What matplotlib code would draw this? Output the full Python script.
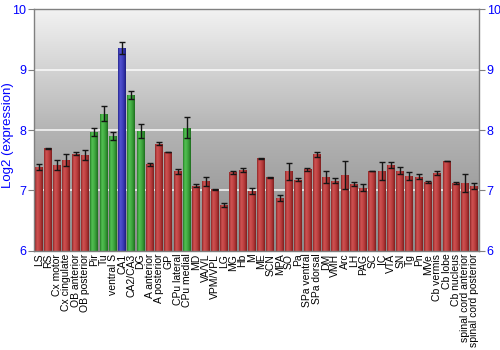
import numpy as np
import matplotlib
matplotlib.use("Agg")
import matplotlib.pyplot as plt
from matplotlib.colors import LinearSegmentedColormap

labels = ["LS", "RS", "Cx motor", "Cx cingulate", "OB anterior", "OB posterior",
          "Pir", "Tu", "ventral S", "CA1", "CA2/CA3", "DG", "A anterior",
          "A posterior", "GP", "CPu lateral", "CPu medial", "MD", "VA/VL",
          "VPM/VPL", "LG", "MG", "Hb", "M", "ME", "SCN", "MPA", "SO", "Pa",
          "SPa ventral", "SPa dorsal", "DM", "VMH", "Arc", "LH", "PAG", "SC",
          "IC", "VTA", "SN", "Tg", "Pn", "MVe", "Cb vermis", "Cb lobe",
          "Cb nucleus", "spinal cord anterior", "spinal cord posterior"]
values = [7.39, 7.70, 7.42, 7.51, 7.61, 7.585, 7.96, 8.27, 7.90, 9.35, 8.575,
          7.98, 7.43, 7.77, 7.635, 7.315, 8.04, 7.08, 7.15, 7.02, 6.76, 7.30,
          7.34, 6.99, 7.53, 7.215, 6.88, 7.315, 7.18, 7.35, 7.60, 7.225, 7.16,
          7.25, 7.11, 7.045, 7.325, 7.32, 7.425, 7.325, 7.24, 7.23, 7.145,
          7.29, 7.49, 7.125, 7.125, 7.08]
errors = [0.045, 0.01, 0.08, 0.10, 0.02, 0.08, 0.066, 0.12, 0.065, 0.10, 0.067,
          0.12, 0.03, 0.025, 0.005, 0.04, 0.17, 0.03, 0.08, 0.005, 0.03, 0.02,
          0.03, 0.05, 0.005, 0.005, 0.05, 0.14, 0.03, 0.02, 0.04, 0.10, 0.04,
          0.23, 0.03, 0.06, 0.005, 0.15, 0.05, 0.06, 0.06, 0.04, 0.02, 0.03,
          0.005, 0.01, 0.15, 0.05]
groups = ["r"] * 6 + ["g", "g", "g", "b", "g", "g"] + ["r"] * 4 + ["g"] + ["r"] * 31

yticks = [6, 7, 8, 9, 10]

cmaps = {
    "r": LinearSegmentedColormap.from_list("r", ["#8e2626", "#cf5252", "#c44646", "#ac3434", "#7c1e1e"]),
    "g": LinearSegmentedColormap.from_list("g", ["#267e26", "#52c052", "#46b046", "#349634", "#1e6c1e"]),
    "b": LinearSegmentedColormap.from_list("b", ["#26268e", "#5252d0", "#4646c4", "#3434ac", "#1e1e7c"]),
}

plt.rcParams["font.family"] = ["Liberation Sans", "DejaVu Sans"]
fig = plt.figure(figsize=(5, 3.5), dpi=100)
ax = fig.add_axes([0.068, 0.283, 0.89, 0.691])

ymin, ymax = 6, 10
n = len(labels)
x = np.arange(n)

# background gradient
bg = LinearSegmentedColormap.from_list("bg", ["#8a8a8a", "#b4b4b4", "#f2f2f2"])
grad = np.linspace(0, 1, 256).reshape(-1, 1)
ax.imshow(grad, extent=[-0.5, n - 0.5, ymin, ymax], origin="lower",
          cmap=bg, aspect="auto", zorder=0)

for yv in [7, 8, 9]:
    ax.axhline(yv, color="white", lw=1.2, alpha=0.85, zorder=1)

bars = ax.bar(x, np.array(values) - ymin, bottom=ymin, width=0.86,
              color="none", edgecolor="none", zorder=2)
hgrad = np.linspace(0, 1, 64).reshape(1, -1)
for b, v, g in zip(bars, values, groups):
    x0 = b.get_x()
    im = ax.imshow(hgrad, extent=[x0, x0 + b.get_width(), ymin, v],
                   cmap=cmaps[g], aspect="auto", zorder=2)
    im.set_clip_path(b)

ax.errorbar(x, values, yerr=errors, fmt="none", ecolor="#151515",
            elinewidth=1, capsize=2.5, capthick=1, zorder=3)

ax.set_xlim(-0.5, n - 0.5)
ax.set_ylim(ymin, ymax)
ax.set_xticks(x)
ax.set_xticklabels(labels, rotation=90, fontsize=7.5)
ax.tick_params(axis="x", length=0, pad=2)
ax.set_yticks(yticks)
ax.tick_params(axis="y", which="both", labelsize=9,
               left=True, right=True, labelleft=True, labelright=True,
               length=4, width=0.8, direction="out", pad=1.5,
               colors="#808080", labelcolor="#0000ff")
fig.text(8.5 / 500, 1 - 135 / 350, "Log2 (expression)", color="#0000ff",
         fontsize=9.5, rotation=90, ha="center", va="center")
for s in ax.spines.values():
    s.set_color("#808080")
    s.set_linewidth(1)

fig.savefig("out.png", dpi=100)
